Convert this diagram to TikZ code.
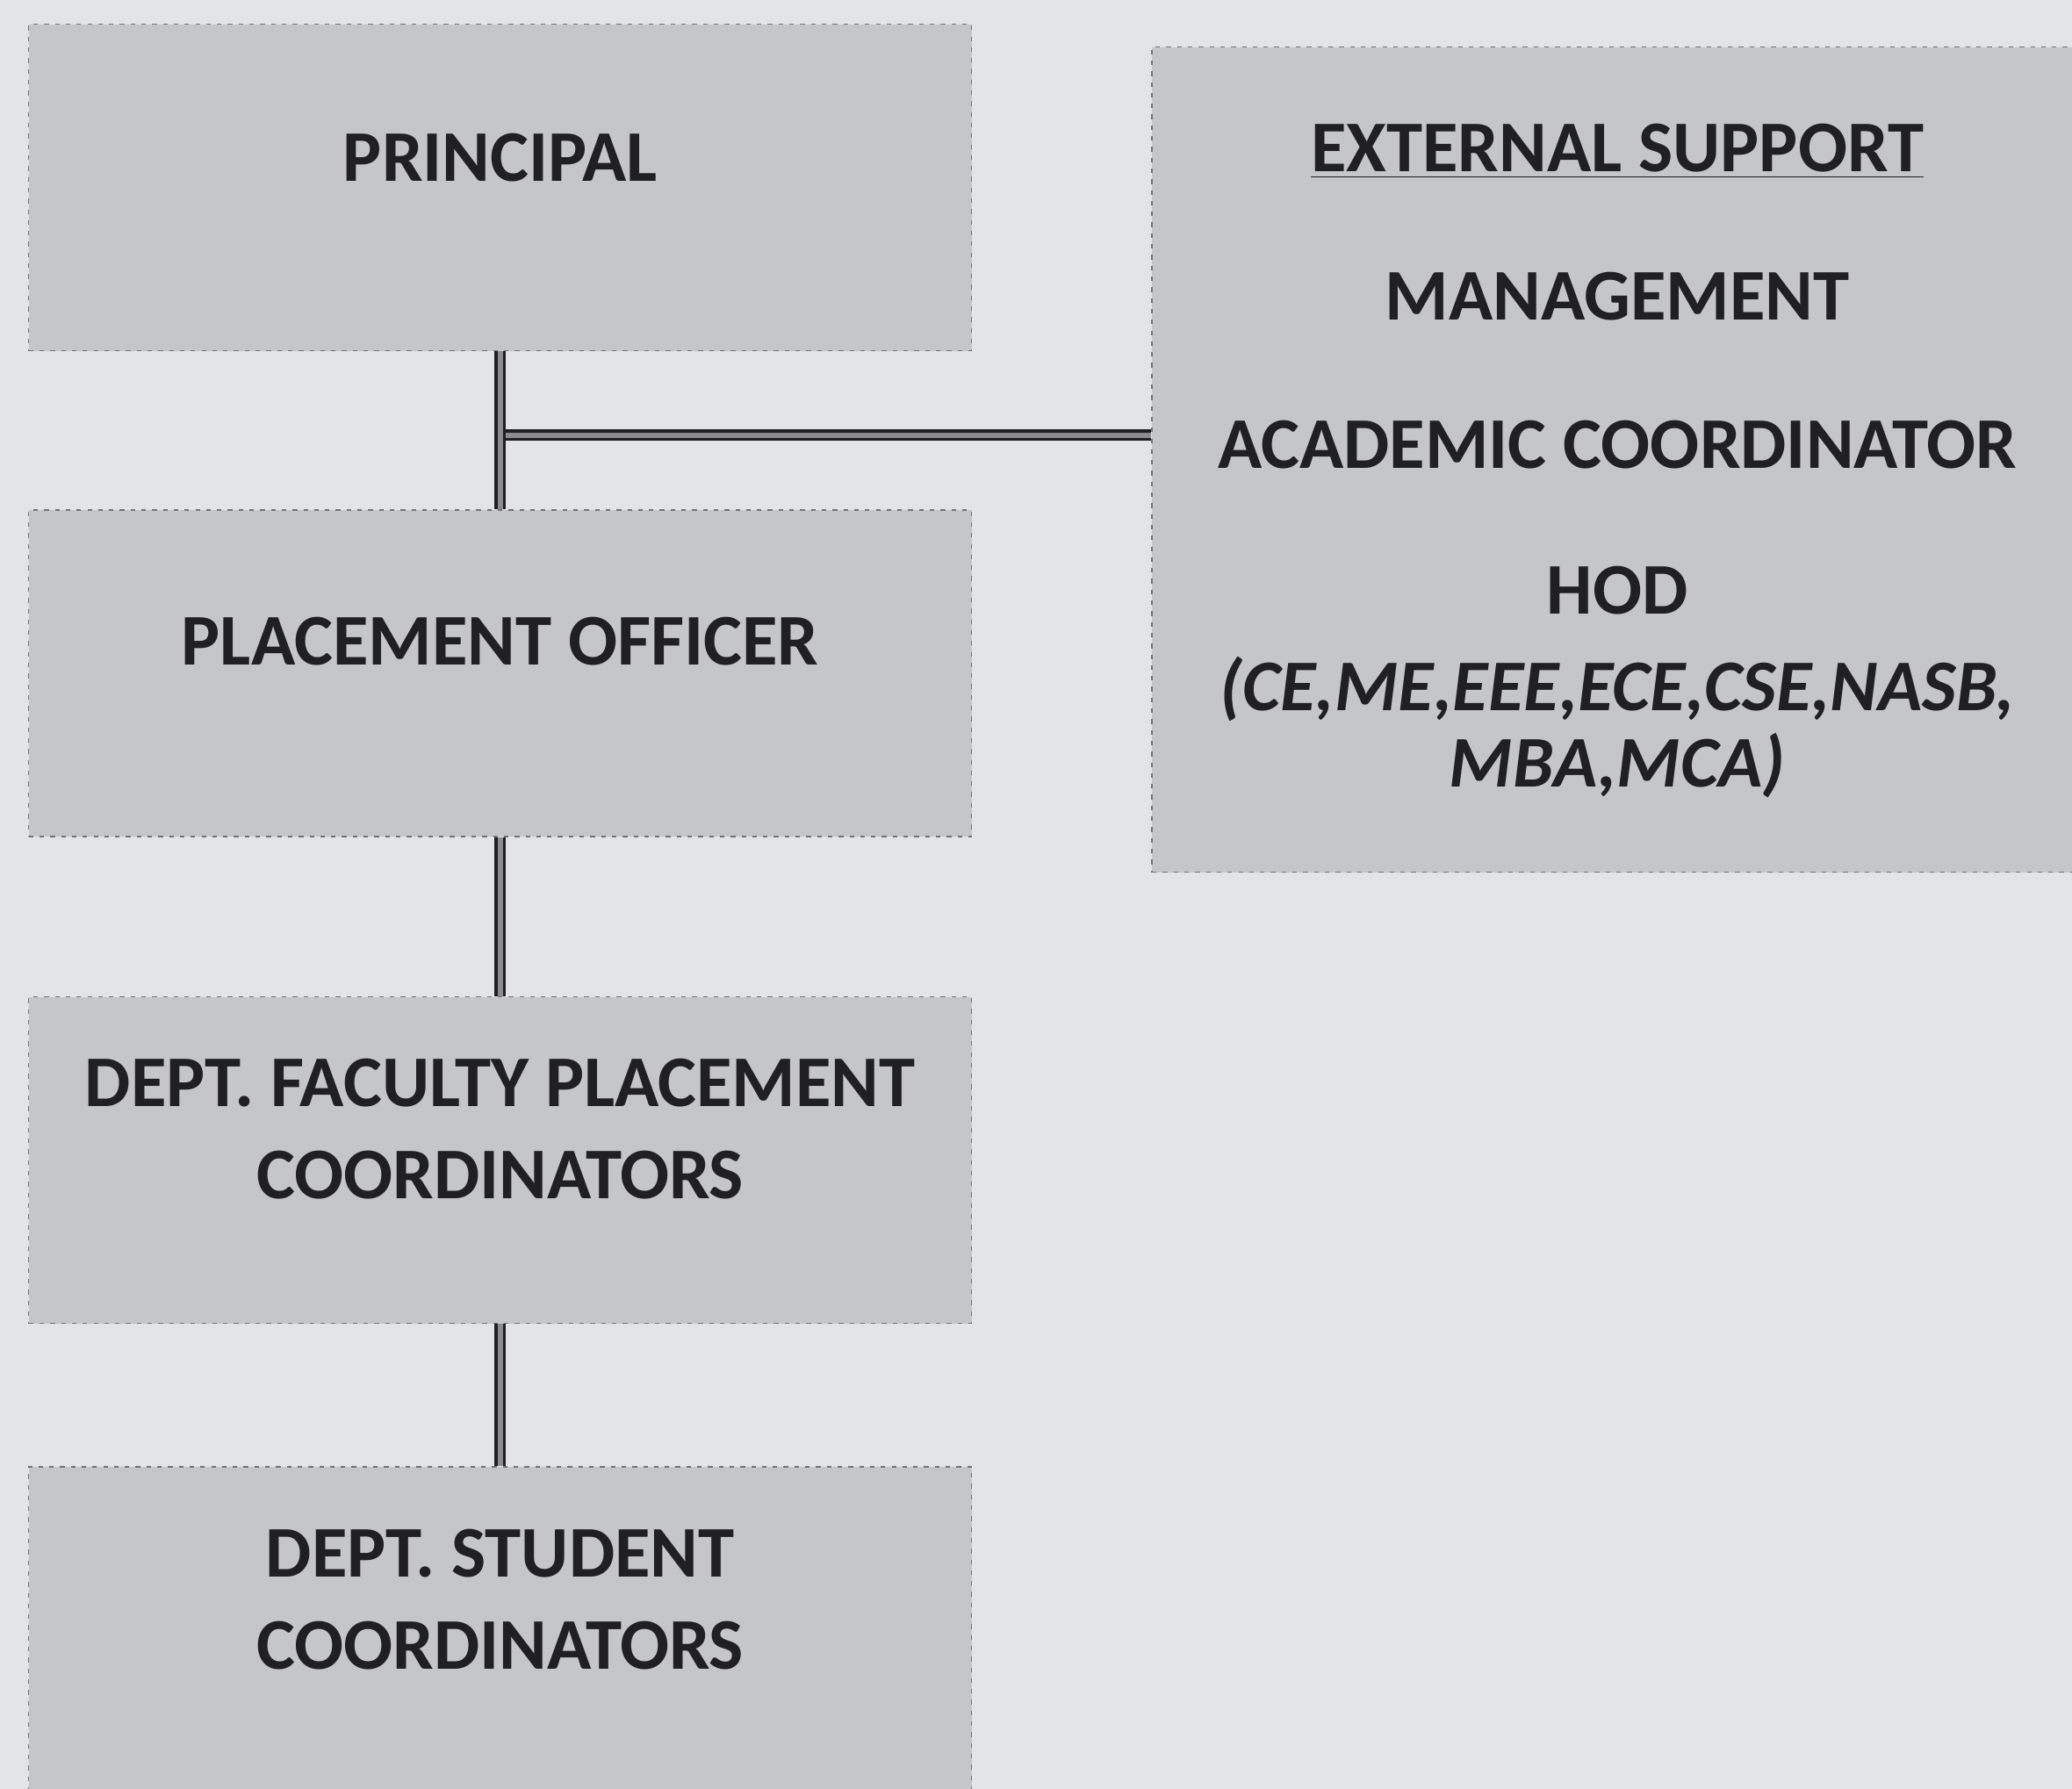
\documentclass[tikz,border=0pt]{standalone}
\usepackage{fontspec}
\setmainfont{Carlito}
\usetikzlibrary{positioning, calc}

\definecolor{paper}{RGB}{226,228,230}
\definecolor{boxgray}{RGB}{197,198,200}
\definecolor{inkgray}{RGB}{32,32,34}

\begin{document}
\begin{tikzpicture}[
    box/.style = {draw=black!55, dash pattern=on 1.5pt off 2pt, fill=boxgray,
      minimum width=10.74cm, minimum height=3.72cm, inner sep=0pt},
    lbl/.style = {text=inkgray, font=\fontsize{23.6}{30}\selectfont\bfseries,
      align=center, inner sep=0pt},
    link/.style = {draw=inkgray, line width=1pt, double=black!45,
      double distance=1.6pt}
  ]
    \fill[paper] (0,0) rectangle (23.6,-20.38);
    \useasboundingbox (0,0) rectangle (23.6,-20.38);

    % left column
    \node[box, anchor=north west] (principal) at (0.32,-0.27) {};
    \node[box, below = 1.80cm of principal] (officer) {};
    \node[box, below = 1.81cm of officer] (faculty) {};
    \node[box, below = 1.62cm of faculty, minimum height=3.9cm] (student) {};

    % right box
    \node[box, below right = 0.26cm and 2.04cm of principal.north east,
      minimum width=10.6cm, minimum height=9.40cm] (ext) {};

    \node[lbl, anchor=base] (principaltext) at ([yshift=-1.80cm]principal.north) {PRINCIPAL};
    \node[lbl, anchor=base] (officertext) at ([yshift=-1.77cm]officer.north) {PLACEMENT OFFICER};
    \node[lbl] (facultytext) at ([yshift=-1.51cm]faculty.north) {DEPT. FACULTY PLACEMENT\\COORDINATORS};
    \node[lbl] (studenttext) at ([yshift=-1.52cm]student.north) {DEPT. STUDENT\\COORDINATORS};

    \node[lbl, anchor=base] (headtext) at ([yshift=-1.43cm]ext.north) {\underline{EXTERNAL SUPPORT}};
    \node[lbl, anchor=base] (mgmttext) at ([yshift=-3.12cm]ext.north) {MANAGEMENT};
    \node[lbl, anchor=base] (acadtext) at ([yshift=-4.80cm]ext.north) {ACADEMIC COORDINATOR};
    \node[lbl, anchor=base] (hodtext) at ([yshift=-6.46cm]ext.north) {HOD};
    \node[lbl, anchor=base] (branchtext) at ([yshift=-7.56cm]ext.north) {\itshape (CE,ME,EEE,ECE,CSE,NASB,};
    \node[lbl, anchor=base] (branchtextb) at ([yshift=-8.43cm]ext.north) {\itshape MBA,MCA)};

    % connectors
    \path (principal.south) -- (officer.north) coordinate[pos=0.53] (tee);
    \draw[link] (tee) -- (tee -| ext.west);
    \draw[link] (principal) -- (officer);
    \draw[link] (officer) -- (faculty);
    \draw[link] (faculty) -- (student);
\end{tikzpicture}
\end{document}
